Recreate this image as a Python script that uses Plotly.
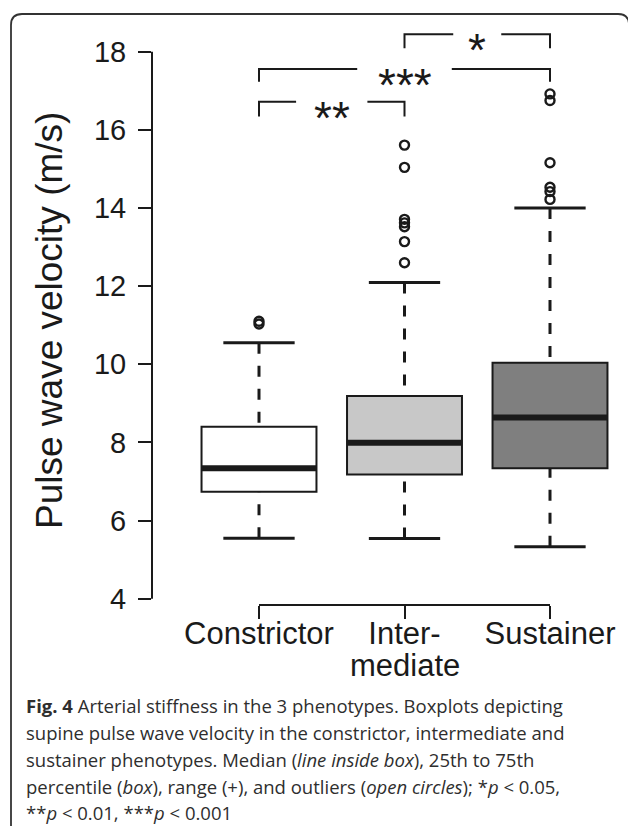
import plotly.graph_objects as go

# ---------------- data ----------------
categories = ["Constrictor", "Inter-", "Sustainer"]
category_second_line = ["", "mediate", ""]
q1 = [6.74, 7.18, 7.34]
median = [7.34, 7.99, 8.64]
q3 = [8.40, 9.19, 10.04]
whisker_low = [5.55, 5.54, 5.33]
whisker_high = [10.55, 12.09, 14.00]
outliers = [
    [11.03, 11.10],
    [12.60, 13.14, 13.52, 13.62, 13.71, 15.04, 15.61],
    [14.22, 14.42, 14.53, 15.16, 16.75, 16.92],
]
y_ticks = [4, 6, 8, 10, 12, 14, 16, 18]
comparisons = [(0, 1, "**"), (0, 2, "***"), (1, 2, "*")]
bracket_levels = [16.72, 17.56, 18.45]
bracket_drop = [0.38, 0.33, 0.36]
caption_lines = [
    "<b>Fig. 4</b> Arterial stiffness in the 3 phenotypes. Boxplots depicting",
    "supine pulse wave velocity in the constrictor, intermediate and",
    "sustainer phenotypes. Median (<i>line inside box</i>), 25th to 75th",
    "percentile (<i>box</i>), range (+), and outliers (<i>open circles</i>); *<i>p</i> &lt; 0.05,",
    "**<i>p</i> &lt; 0.01, ***<i>p</i> &lt; 0.001",
]

# ---------------- style ----------------
W, H = 628, 826
ML, MR, MT, MB = 152, 8, 20, 221
PW, PH = W - ML - MR, H - MT - MB
box_colors = ["#ffffff", "#c8c8c8", "#7f7f7f"]
ink = "#1a1a1a"
box_half = 0.395
cap_half = 0.245
chart_font = "Liberation Sans, Arial, sans-serif"
caption_font = "Open Sans, sans-serif"


def px(x):
    return (x - ML) / PW


def py(y):
    return (H - MB - y) / PH


fig = go.Figure()
shapes = []

for i in range(len(categories)):
    # whiskers (dashed)
    shapes.append(dict(type="line", xref="x", yref="y", x0=i, x1=i,
                       y0=whisker_high[i], y1=q3[i],
                       line=dict(color=ink, width=3, dash="11px,12px")))
    shapes.append(dict(type="line", xref="x", yref="y", x0=i, x1=i,
                       y0=whisker_low[i], y1=q1[i],
                       line=dict(color=ink, width=3, dash="11px,12px")))
    # caps
    for v in (whisker_low[i], whisker_high[i]):
        shapes.append(dict(type="line", xref="x", yref="y",
                           x0=i - cap_half, x1=i + cap_half, y0=v, y1=v,
                           line=dict(color=ink, width=3)))
    # box
    shapes.append(dict(type="rect", xref="x", yref="y",
                       x0=i - box_half, x1=i + box_half, y0=q1[i], y1=q3[i],
                       fillcolor=box_colors[i], line=dict(color=ink, width=2)))
    # median
    shapes.append(dict(type="line", xref="x", yref="y",
                       x0=i - box_half, x1=i + box_half, y0=median[i], y1=median[i],
                       line=dict(color=ink, width=6)))

# outliers
ox, oy = [], []
for i, vals in enumerate(outliers):
    for v in vals:
        ox.append(i)
        oy.append(v)
fig.add_trace(go.Scatter(x=ox, y=oy, mode="markers", showlegend=False,
                         hoverinfo="skip",
                         marker=dict(symbol="circle-open", size=9, color=ink,
                                     line=dict(width=2.4, color=ink))))

annotations = []
# significance brackets
for (a, b, stars), lvl, drop in zip(comparisons, bracket_levels, bracket_drop):
    mid = (a + b) / 2
    gap = 0.085 + 0.08 * len(stars)
    shapes.append(dict(type="path", xref="x", yref="y",
                       path=f"M {a},{lvl - drop} L {a},{lvl} L {mid - gap},{lvl}",
                       line=dict(color=ink, width=2)))
    shapes.append(dict(type="path", xref="x", yref="y",
                       path=f"M {mid + gap},{lvl} L {b},{lvl} L {b},{lvl - drop}",
                       line=dict(color=ink, width=2)))
    annotations.append(dict(x=mid, y=lvl, xref="x", yref="y", text=stars,
                            showarrow=False, yanchor="middle", yshift=-16,
                            font=dict(family=chart_font, size=46, color=ink)))

# y axis line (4..18) and x bracket axis line
shapes.append(dict(type="line", xref="paper", yref="y", x0=0, x1=0,
                   y0=y_ticks[0], y1=y_ticks[-1], line=dict(color=ink, width=2)))
shapes.append(dict(type="line", xref="x", yref="paper", x0=0, x1=len(categories) - 1,
                   y0=0, y1=0, line=dict(color=ink, width=2)))

# outer frame (rounded, open at bottom)
r = 11
fl, fr, ft, fb = 11, 629, 14, 830
frame_path = (f"M {px(fl)},{py(fb)} L {px(fl)},{py(ft + r)} "
              f"Q {px(fl)},{py(ft)} {px(fl + r)},{py(ft)} "
              f"L {px(fr - r)},{py(ft)} Q {px(fr)},{py(ft)} {px(fr)},{py(ft + r)} "
              f"L {px(fr)},{py(fb)}")
shapes.append(dict(type="path", xref="paper", yref="paper", path=frame_path,
                   line=dict(color="#333333", width=1.8)))

# second line of the x category labels
for i, t in enumerate(category_second_line):
    if t:
        annotations.append(dict(x=i, y=py(665), xref="x", yref="paper", text=t,
                                showarrow=False, yanchor="middle",
                                font=dict(family=chart_font, size=31, color=ink)))

# y axis title
annotations.append(dict(x=px(50), y=py(321), xref="paper", yref="paper",
                        text="Pulse wave velocity (m/s)", textangle=-90,
                        showarrow=False, xanchor="center", yanchor="middle",
                        font=dict(family=chart_font, size=37, color=ink)))

# caption
cap_y = [705, 732, 759, 786, 812]
for t, yy in zip(caption_lines, cap_y):
    annotations.append(dict(x=px(24), y=py(yy), xref="paper", yref="paper",
                            text=t, showarrow=False, xanchor="left",
                            yanchor="middle", align="left",
                            font=dict(family=caption_font, size=18.5, color="#2e2e2e")))

x_lo = -0.7354
x_hi = x_lo + PW / 145.5
y_lo = 4 + (598.7 - (H - MB)) / 39.07
y_hi = 4 + (598.7 - MT) / 39.07

fig.update_layout(
    width=W, height=H,
    margin=dict(l=ML, r=MR, t=MT, b=MB, pad=0),
    paper_bgcolor="white", plot_bgcolor="white",
    showlegend=False,
    shapes=shapes,
    annotations=annotations,
    xaxis=dict(range=[x_lo, x_hi], tickvals=list(range(len(categories))),
               ticktext=categories, showgrid=False, zeroline=False,
               showline=False, ticks="outside", ticklen=13, tickwidth=2,
               tickcolor=ink, fixedrange=True, ticklabelstandoff=-12,
               tickfont=dict(family=chart_font, size=31, color=ink)),
    yaxis=dict(range=[y_lo, y_hi], tickvals=y_ticks, showgrid=False,
               zeroline=False, showline=False, ticks="outside", ticklen=13,
               tickwidth=2, tickcolor=ink, fixedrange=True, ticklabelstandoff=6,
               tickfont=dict(family=chart_font, size=29, color=ink)),
)

fig.write_html("out.html", config={"displayModeBar": False},
               post_script="document.body.style.margin='0';document.body.style.overflow='hidden';")
